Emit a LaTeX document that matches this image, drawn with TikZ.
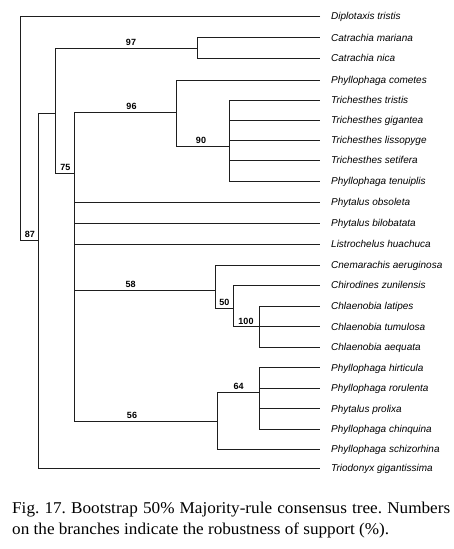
\documentclass[tikz,border=0pt]{standalone}
\usepackage{fontspec}
\setmainfont{Liberation Serif}
\setsansfont{Liberation Sans}
\newfontfamily\capfont[FakeStretch=1.04]{Liberation Serif}

\begin{document}
\begin{tikzpicture}[
    x=1pt, y=-1pt,
    % Estilo para las ramas del árbol
    branch/.style={line width=0.9pt, color=treegrey},
    % Estilo para los nombres de los taxones
    taxon/.style={
        anchor=base west, inner sep=0pt,
        font=\sffamily\itshape\fontsize{10}{12}\selectfont
    },
    % Estilo para los valores de bootstrap
    boot/.style={
        anchor=base, inner sep=0pt, yshift=2.5pt,
        font=\sffamily\bfseries\fontsize{9}{11}\selectfont
    },
    % Estilo para el pie de figura
    caption/.style={
        anchor=base west, inner sep=0pt,
        font=\capfont\fontsize{16.5}{20}\selectfont
    }
]
    % Configuración de colores
    \definecolor{treegrey}{RGB}{30, 30, 30}

    % Marco de la figura (tamaño de la imagen original)
    \useasboundingbox (0,0) rectangle (454,549);

    % Parámetros generales
    \def\tipx{320} % Extremo derecho de las ramas terminales
    \def\labelx{331} % Inicio de los nombres

    % Hojas del árbol
    % Parámetros: {índice / posición vertical / nombre}
    \foreach \i/\y/\taxname in {
        0/16/Diplotaxis tristis,
        1/37.5/Catrachia mariana,
        2/58/Catrachia nica,
        3/80/Phyllophaga cometes,
        4/100/Trichesthes tristis,
        5/120/Trichesthes gigantea,
        6/140/Trichesthes lissopyge,
        7/160/Trichesthes setifera,
        8/181/Phyllophaga tenuiplis,
        9/202/Phytalus obsoleta,
        10/223/Phytalus bilobatata,
        11/244/Listrochelus huachuca,
        12/265/Cnemarachis aeruginosa,
        13/285/Chirodines zunilensis,
        14/306/Chlaenobia latipes,
        15/326.5/Chlaenobia tumulosa,
        16/347/Chlaenobia aequata,
        17/367.5/Phyllophaga hirticula,
        18/388/Phyllophaga rorulenta,
        19/408.5/Phytalus prolixa,
        20/429/Phyllophaga chinquina,
        21/449/Phyllophaga schizorhina,
        22/468/Triodonyx gigantissima
    }{
        \coordinate (l\i) at (\tipx,\y);
        \node [taxon] (t\i) at (\labelx,\y+3.7) {\taxname};
    }

    % Nodos internos (posición de la barra vertical)
    \coordinate (root) at (20.7,240);
    \coordinate (n87) at (38.3,240);
    \coordinate (nA) at (55.7,113);
    \coordinate (n97) at (197,48);
    \coordinate (n75) at (74,173);
    \coordinate (n96) at (176,112);
    \coordinate (n90) at (229,146);
    \coordinate (n58) at (215.5,290);
    \coordinate (n50) at (233.3,308);
    \coordinate (n100) at (259,326.5);
    \coordinate (n56) at (217.7,421);
    \coordinate (n64) at (259.3,392);

    % Ramas
    \draw [branch] (l0) -| (root) -- (n87);
    \draw [branch] (n87) |- (nA);
    \draw [branch] (n87) |- (l22);
    \draw [branch] (nA) |- (n97);
    \draw [branch] (nA) |- (n75);
    \foreach \k in {1,2} \draw [branch] (n97) |- (l\k);
    \foreach \c in {n96,l9,l10,l11,n58,n56} \draw [branch] (n75) |- (\c);
    \foreach \c in {l3,n90} \draw [branch] (n96) |- (\c);
    \foreach \k in {4,...,8} \draw [branch] (n90) |- (l\k);
    \foreach \c in {l12,n50} \draw [branch] (n58) |- (\c);
    \foreach \c in {l13,n100} \draw [branch] (n50) |- (\c);
    \foreach \k in {14,15,16} \draw [branch] (n100) |- (l\k);
    \foreach \c in {n64,l21} \draw [branch] (n56) |- (\c);
    \foreach \k in {17,...,20} \draw [branch] (n64) |- (l\k);

    % Valores de bootstrap sobre las ramas
    \node [boot] (b87) at (30,240) {87};
    \node [boot] (b97) at (131,48) {97};
    \node [boot] (b75) at (65.5,173) {75};
    \node [boot] (b96) at (131.5,112) {96};
    \node [boot] (b90) at (201,146) {90};
    \node [boot] (b58) at (130.7,290) {58};
    \node [boot] (b50) at (224.3,308) {50};
    \node [boot] (b100) at (246,326.5) {100};
    \node [boot] (b56) at (132,421) {56};
    \node [boot] (b64) at (238.7,392) {64};

    % Pie de figura (primera línea justificada a 438pt)
    \node [caption] (cap1) at (12,513.3) {\spaceskip=0pt plus 1fil\xspaceskip=0pt plus 1fil\relax
        \makebox[438pt][s]{Fig. 17. Bootstrap 50\% Majority-rule consensus tree. Numbers}};
    \node [caption] (cap2) at (12,534) {on the branches indicate the robustness of support (\%).};

\end{tikzpicture}
\end{document}
